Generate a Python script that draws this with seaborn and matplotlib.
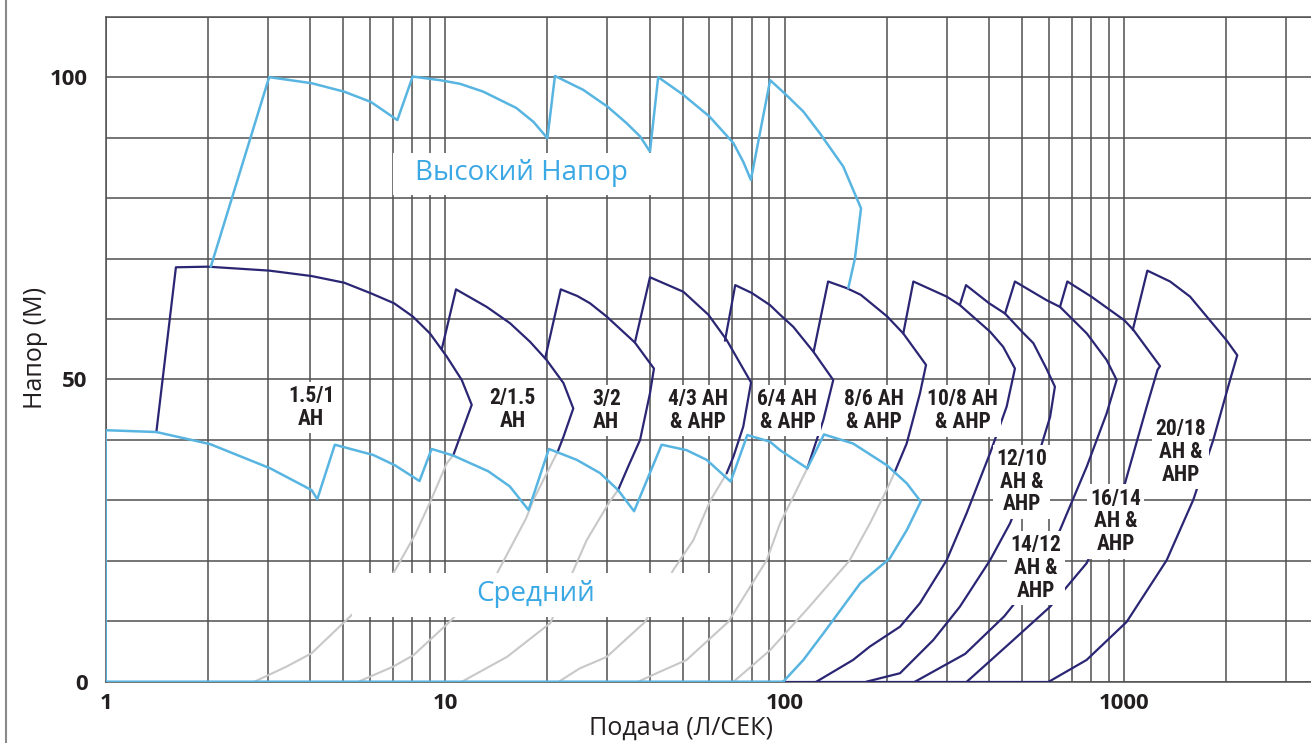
import numpy as np
import matplotlib
matplotlib.use("Agg")
import matplotlib.pyplot as plt
import seaborn as sns
from matplotlib.ticker import LogLocator, FixedLocator, MultipleLocator, NullFormatter
from matplotlib.patches import Rectangle
from matplotlib.lines import Line2D
from matplotlib import font_manager

# ---------------- data ----------------
# High head envelope ("Высокий Напор")
high_q = [2.04, 3.03, 4.04, 5.04, 6.04, 7.23, 8.02, 9.66, 11.06, 12.95, 16.2, 18.2, 20.0,
          21.05, 25.5, 30.1, 34.2, 37.5, 40.1,
          42.4, 50.2, 60.0, 70.6, 75.5, 79.5,
          90.6, 100, 113.5, 127, 148.8, 167.8, 161, 153.9]
high_h = [68.65, 100, 99.0, 97.6, 95.9, 92.9, 100.1, 99.5, 98.9, 97.6, 94.9, 92.6, 89.9,
          100.2, 97.9, 95.1, 92.4, 90.2, 87.7,
          100.0, 97.1, 93.5, 89.1, 86.0, 83.0,
          99.5, 97.3, 94.3, 90.7, 85.2, 78.3, 70.0, 65.1]

# Medium head envelope ("Средний"), closed along x=1 and y=0
med_q = [99, 1, 1, 1.41, 2.03, 3.05, 4.04, 4.20,
         4.73, 6.14, 7.11, 8.40,
         9.12, 10.57, 13.4, 15.5, 17.6,
         20.2, 24.4, 28.6, 32.3, 36.0,
         43.4, 51.4, 58.9, 69.3,
         77.6, 90.5, 96.9, 110.9, 116.6,
         130.5, 159, 200, 229, 251.6, 229, 204, 167, 130, 113.5, 99]
med_h = [0, 0, 41.6, 41.3, 39.3, 35.3, 31.7, 30.2,
         39.2, 37.5, 35.8, 33.2,
         38.5, 37.4, 34.8, 32.3, 28.4,
         38.5, 36.7, 34.5, 31.7, 28.2,
         39.2, 38.3, 36.7, 33.1,
         40.8, 39.7, 38.3, 36.1, 35.3,
         40.9, 39.4, 35.8, 32.8, 29.8, 25.1, 20.4, 16.3, 8.0, 3.6, 0]

# AH / AHP pump envelopes (navy)
p1_q = [1.41, 1.61, 2.0, 3.03, 4.04, 5.04, 6.04, 7.07, 8.03, 9.02, 10.1, 11.19, 11.97, 10.57]
p1_h = [41.3, 68.55, 68.65, 68.0, 67.1, 66.0, 64.25, 62.6, 60.4, 57.6, 53.8, 49.9, 45.8, 37.5]
p2_q = [9.77, 10.76, 13.25, 15.52, 17.8, 19.9, 22.3, 23.84, 22.3, 21.5]
p2_h = [55.0, 64.9, 62.0, 59.3, 56.2, 53.2, 49.4, 45.2, 40.5, 38.2]
p3_q = [19.7, 21.9, 24.5, 26.7, 29.9, 36.2, 41.2, 40.1, 37.5, 34.6, 32.3]
p3_h = [53.5, 64.9, 63.8, 62.6, 60.4, 56.1, 51.8, 47.7, 40.0, 35.6, 31.7]
p4_q = [36.2, 40.1, 50.3, 59.6, 67.5, 79.6, 75.5, 70.6, 67.5]
p4_h = [56.1, 66.9, 64.5, 60.7, 56.5, 49.5, 42.2, 37.2, 34.5]
p5_q = [66.7, 71.5, 80.0, 90.5, 96.9, 106, 121.4, 139, 130, 121.4, 116.6]
p5_h = [56.4, 65.6, 64.3, 62.3, 60.7, 58.7, 54.6, 49.9, 43.3, 38.3, 35.3]
p6_q = [121.7, 134.2, 152.3, 167.5, 200.5, 223.5, 260.8, 250.3, 228.7, 211]
p6_h = [54.6, 66.2, 65.1, 64.0, 60.4, 57.6, 52.4, 47.7, 39.4, 34.7]
p7_q = [223.5, 239.3, 300, 328, 402.6, 440, 476.6, 450.6, 402.6, 343.6, 300, 250.3, 218.6, 178, 159, 124]
p7_h = [57.6, 66.2, 63.7, 62.3, 57.9, 55.4, 51.8, 45.5, 37.8, 27.9, 20.1, 13.0, 9.1, 5.8, 3.6, 0]
p8_q = [328, 342, 400, 445.6, 500, 540, 590, 625, 605, 571, 461, 402.6, 328, 274, 218.6, 174]
p8_h = [62.3, 65.6, 62.6, 60.9, 57.9, 56.0, 51.8, 48.8, 43.8, 39.2, 26.2, 20.1, 12.4, 6.9, 1.4, 0]
p9_q = [445.6, 476.6, 591, 647, 776, 888, 950, 888, 776, 647, 540, 443, 340, 242]
p9_h = [60.9, 66.2, 63.1, 62.0, 57.6, 53.2, 49.9, 44.4, 35.6, 25.1, 16.8, 10.8, 4.6, 0]
p10_q = [647, 680, 800, 1000, 1064, 1275, 1254, 1165, 1005, 775, 605, 461, 344]
p10_h = [62.0, 66.2, 63.7, 59.8, 58.2, 52.2, 51.6, 45.5, 32.8, 19.6, 12.4, 6.4, 0]
p11_q = [1060, 1170, 1365, 1563, 2000, 2153, 2050, 1830, 1598, 1334, 1017, 775, 600]
p11_h = [58.2, 68.0, 66.2, 63.7, 56.5, 54.0, 49.9, 40.0, 30.1, 20.1, 9.9, 3.6, 0]
navy_base_q = [99, 600]
navy_base_h = [0, 0]

# continuation of the smaller pumps' limits (grey)
g1_q = [10.57, 10.1, 9.06, 8.15, 7.03, 5.24, 4.04, 3.41, 2.74]
g1_h = [37.5, 36.1, 29.9, 24.3, 17.9, 10.75, 4.7, 2.5, 0]
g2_q = [21.5, 18.2, 17.3, 14.2, 10.3, 8.07, 7.03, 5.55]
g2_h = [38.2, 30.1, 27.0, 17.9, 9.9, 4.4, 2.5, 0]
g3_q = [32.3, 30.6, 26.1, 20.4, 15.2, 12.9, 11.2]
g3_h = [31.7, 29.9, 23.4, 9.7, 4.1, 1.9, 0]
g4_q = [67.5, 60.3, 53.8, 47.0, 38.8, 29.9, 24.9, 21.6]
g4_h = [34.5, 29.9, 23.4, 18.5, 9.9, 4.1, 2.2, 0]
g5_q = [116.6, 106, 96.9, 88.5, 68.2, 51.4, 42.9, 37.0]
g5_h = [35.3, 30.6, 26.2, 20.1, 9.9, 3.6, 1.65, 0]
g6_q = [211, 199.6, 178.3, 155, 116, 90.5, 70.7]
g6_h = [34.7, 31.7, 26.2, 20.0, 11.9, 5.2, 0]

pump_labels = ["1.5/1\nAH", "2/1.5\nAH", "3/2\nAH", "4/3 AH\n& AHP", "6/4 AH\n& AHP", "8/6 AH\n& AHP",
               "10/8 AH\n& AHP", "12/10\nAH &\nAHP", "14/12\nAH &\nAHP", "16/14\nAH &\nAHP", "20/18\nAH &\nAHP"]
label_q = [4.03, 15.8, 29.8, 55.4, 101.9, 183.3, 334, 499, 549.7, 944, 1469]
label_h = [45.3, 45.0, 44.9, 44.9, 44.9, 44.8, 44.8, 33.1, 18.8, 26.5, 38.0]

x_ticks = [1, 10, 100, 1000]
x_tick_labels = ["1", "10", "100", "1000"]
y_ticks = [0, 50, 100]
y_tick_labels = ["0", "50", "100"]

# ---------------- style ----------------
sns.set_style("white")
plt.rcParams["font.family"] = ["Open Sans", "DejaVu Sans"]

ttf = font_manager.fontManager.ttflist
names = {f.name for f in ttf}
narrow_family, narrow_size, narrow_stretch = "Roboto", 14.5, "normal"
for cand in ["Liberation Sans Narrow", "Arial Narrow", "Roboto Condensed", "Open Sans Condensed",
             "Noto Sans Condensed", "DejaVu Sans Condensed"]:
    if cand in names:
        narrow_family, narrow_size = cand, 15.5
        break
else:
    if any(f.name == "DejaVu Sans" and str(f.stretch) in ("condensed", "semi-condensed") for f in ttf):
        narrow_family, narrow_size, narrow_stretch = "DejaVu Sans", 14.5, "condensed"

LIGHT = "#58b5e1"
LIGHT_TXT = "#3aa8e4"
NAVY = "#2b2674"
GREY = "#c8c8c8"
GRID = "#505050"
DARK = "#231f20"

W, H = 1311, 743
fig = plt.figure(figsize=(W / 100, H / 100), dpi=100)
x0, x1 = 105.7, 1311.0
ytop, ybot = 16.7, 681.7
ax = fig.add_axes([x0 / W, (H - ybot) / H, (x1 - x0) / W, (ybot - ytop) / H])
ax.set_xscale("log")
ax.set_xlim(1, 10 ** ((x1 - x0) / 339.5))
ax.set_ylim(0, 110)

# grid
ax.xaxis.set_major_locator(FixedLocator(x_ticks))
ax.xaxis.set_minor_locator(LogLocator(base=10, subs=np.arange(2, 10)))
ax.xaxis.set_minor_formatter(NullFormatter())
ax.yaxis.set_major_locator(FixedLocator(y_ticks))
ax.yaxis.set_minor_locator(MultipleLocator(10))
ax.grid(True, which="both", color=GRID, lw=1.1, zorder=0)
ax.set_axisbelow(True)
for s in ["left", "top", "bottom"]:
    ax.spines[s].set_color(GRID)
    ax.spines[s].set_linewidth(1.1)
ax.spines["right"].set_visible(False)
ax.tick_params(which="both", length=0)
ax.set_xticklabels(x_tick_labels, fontsize=16, fontweight="bold", color=DARK)
ax.set_yticklabels(y_tick_labels, fontsize=16, fontweight="bold", color=DARK)
ax.tick_params(axis="x", pad=8)
ax.tick_params(axis="y", pad=13)


def line(q, h, color, lw, z):
    sns.lineplot(x=q, y=h, sort=False, estimator=None, color=color, lw=lw, ax=ax, zorder=z,
                 solid_joinstyle="round")


for q, h in [(g1_q, g1_h), (g2_q, g2_h), (g3_q, g3_h), (g4_q, g4_h), (g5_q, g5_h), (g6_q, g6_h)]:
    line(q, h, GREY, 1.5, 2)

for q, h in [(p1_q, p1_h), (p2_q, p2_h), (p3_q, p3_h), (p4_q, p4_h), (p5_q, p5_h), (p6_q, p6_h),
             (p7_q, p7_h), (p8_q, p8_h), (p9_q, p9_h), (p10_q, p10_h), (p11_q, p11_h),
             (navy_base_q, navy_base_h)]:
    line(q, h, NAVY, 1.6, 3)

line(med_q, med_h, LIGHT, 1.8, 3.2)
line(high_q, high_h, LIGHT, 1.8, 3.2)


# white label panels for the family names
def px2q(px):
    return 10 ** ((px - x0) / 339.5)


def py2h(py):
    return (ybot - py) / 6.045


ax.add_patch(Rectangle((px2q(393), py2h(195)), px2q(667) - px2q(393), py2h(152.7) - py2h(195),
                       facecolor="white", edgecolor="none", zorder=4))
ax.add_patch(Rectangle((px2q(352), py2h(617)), px2q(730) - px2q(352), py2h(573) - py2h(617),
                       facecolor="white", edgecolor="none", zorder=4))
ax.text(16.8, 84.2, "Высокий Напор", color=LIGHT_TXT, fontsize=20, ha="center", va="center", zorder=5)
ax.text(18.5, 14.5, "Средний", color=LIGHT_TXT, fontsize=20, ha="center", va="center", zorder=5)

for lab, q, h in zip(pump_labels, label_q, label_h):
    ax.text(q, h, lab, family=narrow_family, fontstretch=narrow_stretch, fontweight="bold",
            fontsize=narrow_size, color=DARK, ha="center", va="center", linespacing=1.05, zorder=6,
            bbox=dict(boxstyle="square,pad=0.15", facecolor="white", edgecolor="none"))

ax.set_xlabel("")
ax.set_ylabel("")
fig.text(680.8 / W, 1 - 728 / H, "Подача (Л/СЕК)", fontsize=18, ha="center", va="center", color=DARK)
fig.text(36 / W, 1 - 348 / H, "Напор (М)", fontsize=18, ha="center", va="center", rotation=90, color=DARK)

fig.add_artist(Line2D([6 / W, 6 / W], [0, 1], color="#8a8a8a", lw=1.5, transform=fig.transFigure))

fig.savefig("out.png", dpi=100)
